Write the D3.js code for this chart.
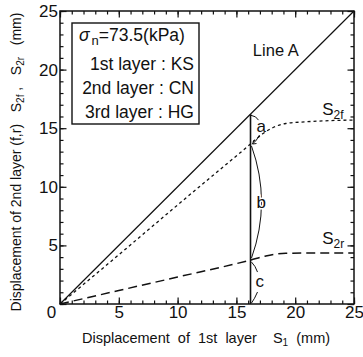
<!DOCTYPE html>
<html>
<head>
<meta charset="utf-8">
<script src="https://cdn.jsdelivr.net/npm/d3@7"></script>
<style>
  body { margin: 0; background: #fff; }
  svg text { font-family: "Liberation Sans", Arial, sans-serif; fill: #111; white-space: pre; }
</style>
</head>
<body>
<div id="chart"></div>
<script>
// values (mm)
const lineA = [[0, 0], [25, 25]];
const s2f = [[0, 0], [5, 4.2], [10, 8.45], [16.2, 13.65], [17.2, 14.5], [18.2, 15.1], [19.2, 15.4], [21, 15.55], [25, 15.7]];
const s2r = [[0, 0], [5, 1.15], [10, 2.3], [16.2, 3.75], [17.5, 4.1], [19.2, 4.33], [21, 4.35], [25, 4.35]];
const cutX = 16.2;
const majorTicks = [0, 5, 10, 15, 20, 25];
const minorTicks = d3.range(0, 26, 1);
const legendLines = ['1st layer : KS', '2nd layer : CN', '3rd layer : HG'];

const W = 363, H = 357;
const margin = { top: 11, right: 9, bottom: 53, left: 60 };
const width = W - margin.left - margin.right;
const height = H - margin.top - margin.bottom;

const svg = d3.select('#chart').append('svg')
  .attr('width', W)
  .attr('height', H);

const g = svg.append('g')
  .attr('transform', `translate(${margin.left},${margin.top})`);

const x = d3.scaleLinear().domain([0, 25]).range([0, width]);
const y = d3.scaleLinear().domain([0, 25]).range([height, 0]);

// frame
g.append('rect')
  .attr('width', width).attr('height', height)
  .attr('fill', 'none').attr('stroke', '#111').attr('stroke-width', 1.5);

// ticks on all sides, pointing inward
function tickAxis(axis, vals, size, tx, ty) {
  g.append('g')
    .attr('transform', `translate(${tx},${ty})`)
    .call(axis.tickValues(vals).tickSize(-size).tickFormat(''))
    .call(a => a.select('.domain').remove())
    .call(a => a.selectAll('line').attr('stroke', '#111').attr('stroke-width', 1.2));
}
[[minorTicks, 3.5], [majorTicks, 6.5]].forEach(([vals, s]) => {
  tickAxis(d3.axisBottom(x), vals, s, 0, height);
  tickAxis(d3.axisTop(x), vals, s, 0, 0);
  tickAxis(d3.axisLeft(y), vals, s, 0, 0);
  tickAxis(d3.axisRight(y), vals, s, width, 0);
});

// tick labels
g.append('g')
  .attr('transform', `translate(0,${height})`)
  .call(d3.axisBottom(x).tickValues(majorTicks).tickSize(0).tickPadding(2))
  .call(a => a.select('.domain').remove())
  .call(a => a.selectAll('text').style('font-size', '17px').attr('dy', '0.72em')
    .attr('dx', d => d === 0 ? -9 : 0));
g.append('g')
  .call(d3.axisLeft(y).tickValues(majorTicks.slice(1)).tickSize(0).tickPadding(2))
  .call(a => a.select('.domain').remove())
  .call(a => a.selectAll('text').style('font-size', '17px'));

const line = d3.line().x(d => x(d[0])).y(d => y(d[1]));
const curve = d3.line().x(d => x(d[0])).y(d => y(d[1])).curve(d3.curveMonotoneX);

g.append('path').datum(lineA).attr('d', line)
  .attr('fill', 'none').attr('stroke', '#111').attr('stroke-width', 1.2);
g.append('path').datum(s2f).attr('d', curve)
  .attr('fill', 'none').attr('stroke', '#111').attr('stroke-width', 1.3).attr('stroke-dasharray', '3,3');
g.append('path').datum(s2r).attr('d', curve)
  .attr('fill', 'none').attr('stroke', '#111').attr('stroke-width', 1.5).attr('stroke-dasharray', '9,5');

// vertical cut at s1 = 16.2
g.append('line')
  .attr('x1', x(cutX)).attr('x2', x(cutX))
  .attr('y1', y(0)).attr('y2', y(cutX))
  .attr('stroke', '#111').attr('stroke-width', 1.6);

// brace arcs a, b, c
const yTop = y(cutX), yF = y(13.65), yR = y(3.75), yBot = y(0);
const cx = x(cutX);
const arcs = [
  `M${cx},${yTop + 1} Q${cx + 6},${yTop + 2} ${cx + 8},${yTop + 6}`,
  `M${cx + 9},${yF - 9} Q${cx + 6},${yF - 3} ${cx + 2},${yF}`,
  `M${cx + 1},${yF + 2} Q${cx + 21},${(yF + yR) / 2} ${cx + 1},${yR - 2}`,
  `M${cx + 1},${yR + 2} Q${cx + 5},${yR + 6} ${cx + 7},${yR + 12}`,
  `M${cx + 7},${yBot - 12} Q${cx + 4},${yBot - 5} ${cx + 1},${yBot - 1}`
];
g.selectAll('.arc').data(arcs).enter().append('path')
  .attr('class', 'arc').attr('d', d => d)
  .attr('fill', 'none').attr('stroke', '#111').attr('stroke-width', 1);
// small arrowhead at end of "a" arc
g.append('path')
  .attr('d', `M${cx + 2},${yF} l4,-0.5 M${cx + 2},${yF} l1.5,-4`)
  .attr('stroke', '#111').attr('stroke-width', 1);

const lbl = (t, px, py, fs) => g.append('text').attr('x', px).attr('y', py)
  .style('font-size', fs + 'px').text(t);
lbl('a', cx + 6, yTop + 18, 17);
lbl('b', cx + 6, (yF + yR) / 2 + 6, 17)
  .attr('stroke', '#fff').attr('stroke-width', 3).attr('paint-order', 'stroke');
lbl('c', cx + 5, yR + 27, 17);
lbl('Line A', x(16.4), y(21.2), 16.5);

// S2f / S2r labels with subscripts
function subLabel(main, sub, px, py) {
  const t = g.append('text').attr('x', px).attr('y', py).style('font-size', '17px');
  t.append('tspan').text(main);
  t.append('tspan').text(sub).attr('dy', 4).style('font-size', '12px');
}
subLabel('S', '2f', x(22.3), y(16.1));
subLabel('S', '2r', x(22.3), y(5.1));

// legend box
const lg = g.append('g').attr('transform', 'translate(12,12)');
lg.append('rect').attr('width', 127).attr('height', 101)
  .attr('fill', '#fff').attr('stroke', '#111').attr('stroke-width', 1.4);
const t0 = lg.append('text').attr('x', 7).attr('y', 18).style('font-size', '17.5px');
t0.append('tspan').text('σ').style('font-style', 'italic');
t0.append('tspan').text('n').attr('dy', 4).attr('dx', 2).style('font-size', '13px');
t0.append('tspan').text('=73.5(kPa)').attr('dy', -4);
lg.selectAll('.leg').data(legendLines).enter().append('text')
  .attr('class', 'leg')
  .attr('x', 122).attr('y', (d, i) => 47 + i * 24)
  .attr('text-anchor', 'end')
  .style('font-size', '17.5px')
  .text(d => d);

// axis titles
const xt = svg.append('text')
  .attr('x', 206).attr('y', 343)
  .attr('text-anchor', 'middle')
  .style('font-size', '14.5px');
xt.append('tspan').text('Displacement  of  1st  layer    S');
xt.append('tspan').text('1').attr('dy', 3).style('font-size', '10px');
xt.append('tspan').text('  (mm)').attr('dy', -3);

const yt = svg.append('text')
  .attr('transform', `translate(21,162) rotate(-90)`)
  .attr('text-anchor', 'middle')
  .style('font-size', '14px');
yt.append('tspan').text('Displacement of 2nd layer (f,r)   S');
yt.append('tspan').text('2f').attr('dy', 3).style('font-size', '10px');
yt.append('tspan').text(' ,   S').attr('dy', -3);
yt.append('tspan').text('2r').attr('dy', 3).style('font-size', '10px');
yt.append('tspan').text('   (mm)').attr('dy', -3);
</script>
</body>
</html>
